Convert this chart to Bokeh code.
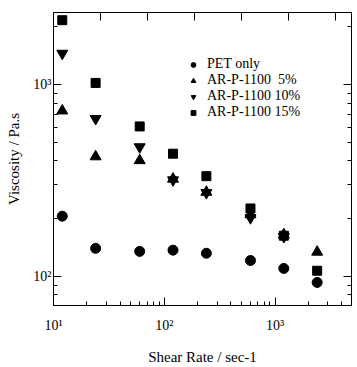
from bokeh.plotting import figure
from bokeh.models import (Range1d, LinearAxis, LogAxis, FixedTicker,
                          Legend, LegendItem, LinearScale, CustomJSTickFormatter)
from bokeh.embed import file_html
from bokeh.resources import INLINE

# data
shear = [12, 24, 60, 120, 240, 600, 1200, 2400]
pet_only = [206, 140, 135, 137, 132, 121, 110, 93]
arp_5 = [730, 421, 402, 322, 275, 210, 165, 134]
arp_10_x = [12, 24, 60, 120, 240, 600, 1200]
arp_10 = [1453, 664, 473, 318, 273, 202, 161]
arp_15 = [2165, 1020, 605, 436, 333, 226, 163, 107]
labels = ["PET only", "AR-P-1100  5%", "AR-P-1100 10%", "AR-P-1100 15%"]
tick_labels = {10: "10\u00b9", 100: "10\u00b2", 1000: "10\u00b3"}
decades = [10, 100, 1000]
minor_ticks = [m * 10 ** e for e in range(0, 4) for m in range(2, 10)]

FONT = "Liberation Serif"

p = figure(width=357, height=367, x_axis_type="log", y_axis_type="log",
           x_range=Range1d(10, 4900), y_range=Range1d(70.5, 2375),
           output_backend="svg", toolbar_location=None,
           min_border_left=53, min_border_right=6, min_border_top=12,
           min_border_bottom=54, x_axis_label="Shear Rate / sec-1",
           y_axis_label="Viscosity / Pa.s")
p.xgrid.visible = False
p.ygrid.visible = False
p.outline_line_color = "black"
p.outline_line_width = 1
p.background_fill_color = "white"
p.border_fill_color = "white"

r0 = p.scatter(shear, pet_only, marker="circle", size=10, color="black")
r1 = p.scatter(shear, arp_5, marker="triangle", size=11, color="black")
r2 = p.scatter(arp_10_x, arp_10, marker="inverted_triangle", size=11, color="black")
r3 = p.scatter(shear, arp_15, marker="square", size=9, color="black")

for ax in (p.xaxis[0], p.yaxis[0]):
    ax.ticker = FixedTicker(ticks=decades, minor_ticks=minor_ticks)
    ax.major_tick_in = 8
    ax.major_tick_out = 0
    ax.minor_tick_in = 4
    ax.minor_tick_out = 0
    ax.axis_line_color = "black"
    ax.major_label_overrides = tick_labels
    ax.major_label_text_font = FONT
    ax.major_label_text_font_size = "14px"
    ax.major_label_text_color = "black"
    ax.axis_label_text_font = FONT
    ax.axis_label_text_font_size = "15px"
    ax.axis_label_text_font_style = "normal"
    ax.axis_label_text_color = "black"
p.xaxis[0].major_label_standoff = 12
p.xaxis[0].axis_label_standoff = 13
p.yaxis[0].major_label_standoff = 2
p.yaxis[0].axis_label_standoff = 8

blank = CustomJSTickFormatter(code="return ''")

# mirrored right axis
right = LogAxis(ticker=FixedTicker(ticks=decades, minor_ticks=minor_ticks),
                major_tick_in=8, major_tick_out=0,
                minor_tick_in=4, minor_tick_out=0, formatter=blank,
                axis_line_color="black")
p.add_layout(right, "right")

# top axis with evenly spaced ticks (as in the original)
p.extra_x_ranges = {"top": Range1d(0, 6.35)}
p.extra_x_scales = {"top": LinearScale()}
top = LinearAxis(x_range_name="top", ticker=FixedTicker(ticks=[1, 2, 3, 4, 5, 6]),
                 major_tick_in=8, major_tick_out=0, minor_tick_in=0, minor_tick_out=0,
                 formatter=blank, axis_line_color="black")
p.add_layout(top, "above")

legend = Legend(items=[LegendItem(label=labels[0], renderers=[r0]),
                       LegendItem(label=labels[1], renderers=[r1]),
                       LegendItem(label=labels[2], renderers=[r2]),
                       LegendItem(label=labels[3], renderers=[r3])],
                location=(134, 185), border_line_color=None,
                background_fill_alpha=0, label_text_font=FONT,
                label_text_font_size="14px", label_text_color="black",
                glyph_width=12, glyph_height=13, label_height=13,
                label_standoff=8, spacing=0, padding=0, margin=0)
p.add_layout(legend, "center")

open("out.html", "w").write(file_html(p, INLINE))
